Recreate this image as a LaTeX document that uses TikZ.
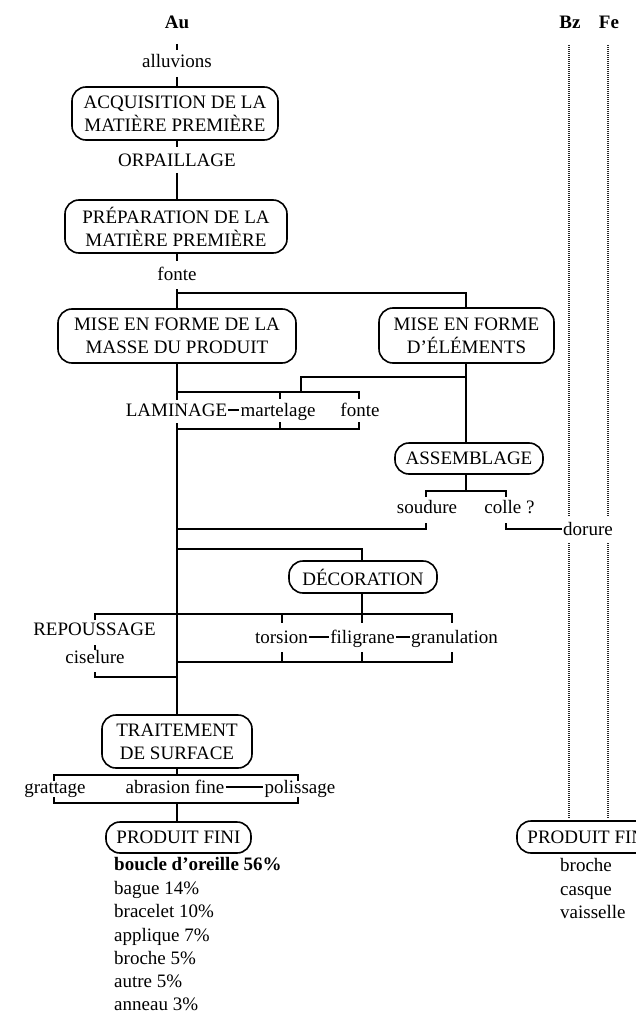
\documentclass[tikz,border=0pt]{standalone}
\usepackage{fontspec}
\setmainfont{Liberation Serif}
\begin{document}
\begin{tikzpicture}[x=1pt,y=-1pt,
  every node/.style={font=\fontsize{19}{23}\selectfont, inner sep=1pt},
  lbl/.style={text height=13pt, text depth=0pt, inner ysep=0pt},
  box/.style={draw, line width=1.6pt, rounded corners=14pt, align=center, inner sep=0pt},
  ln/.style={line width=1.6pt},
  dotln/.style={line width=2pt, dash pattern=on 1pt off 1pt, black!85}]
\clip (0,0) rectangle (636,1016);
\fill[white] (0,0) rectangle (636,1016);

\coordinate (ax) at (177,0);
\coordinate (ex) at (466,0);

% headers
\node[lbl] (au) at (177,22) {\textbf{Au}};
\node[lbl] (bz) at (570,22) {\textbf{Bz}};
\node[lbl] (fe) at (609,22) {\textbf{Fe}};

% dotted lines Bz / Fe
\coordinate (bzTop) at (569,45);
\coordinate (feTop) at (608,45);
\coordinate (bzBot) at (569,819);
\coordinate (feBot) at (608,819);
\draw[dotln] (bzTop) -- (bzBot);
\draw[dotln] (feTop) -- (feBot);

% boxes
\node[box, minimum width=206pt, minimum height=53pt] (acq) at (175,113.5) {ACQUISITION DE LA\\MATIÈRE PREMIÈRE};
\node[box, minimum width=222pt, minimum height=53pt] (prep) at (176,226.5) {PRÉPARATION DE LA\\MATIÈRE PREMIÈRE};
\node[box, minimum width=238pt, minimum height=54pt] (masse) at (177,336) {MISE EN FORME DE LA\\MASSE DU PRODUIT};
\node[box, minimum width=175pt, minimum height=55pt] (elem) at (466.5,335.5) {MISE EN FORME\\D’ÉLÉMENTS};
\node[box, minimum width=148pt, minimum height=31pt] (assem) at (469,458.5) {ASSEMBLAGE};
\node[box, minimum width=148pt, minimum height=32pt] (deco) at (363,577) {DÉCORATION};
\node[box, minimum width=150pt, minimum height=53pt] (trait) at (177,741.5) {TRAITEMENT\\DE SURFACE};
\node[box, minimum width=145pt, minimum height=31pt] (pfin) at (178.5,837.5) {PRODUIT FINI};
\node[box, minimum width=145pt, minimum height=32pt] (pfin2) at (589.5,837) {PRODUIT FINI};

% labels
\node[lbl] (alluv) at (177,61) {alluvions};
\node[lbl] (orp) at (177,160) {ORPAILLAGE};
\node[lbl] (fonte1) at (177,274) {fonte};
\node[lbl] (lam) at (176.5,410) {LAMINAGE};
\node[lbl] (mart) at (278,410) {martelage};
\node[lbl] (fonte2) at (360,410) {fonte};
\node[lbl] (soud) at (427,507) {soudure};
\node[lbl] (colle) at (509.5,507) {colle ?};
\node[lbl, fill=white, inner ysep=6pt] (dor) at (588,529) {dorure};
\node[lbl] (rep) at (94.5,629) {REPOUSSAGE};
\node[lbl] (cis) at (95,657) {ciselure};
\node[lbl] (tors) at (281.5,637) {torsion};
\node[lbl] (fili) at (362.5,637) {filigrane};
\node[lbl] (gran) at (454.5,637) {granulation};
\node[lbl] (gratt) at (55,787) {grattage};
\node[lbl] (abra) at (175,787) {abrasion fine};
\node[lbl] (poli) at (300,787) {polissage};

% lists
\node[lbl, anchor=west] (l1) at (113,864) {\textbf{boucle d’oreille 56\%}};
\node[lbl, anchor=west] (l2) at (113,887.5) {bague 14\%};
\node[lbl, anchor=west] (l3) at (113,911) {bracelet 10\%};
\node[lbl, anchor=west] (l4) at (113,934.5) {applique 7\%};
\node[lbl, anchor=west] (l5) at (113,958) {broche 5\%};
\node[lbl, anchor=west] (l6) at (113,981) {autre 5\%};
\node[lbl, anchor=west] (l7) at (113,1004) {anneau 3\%};
\node[lbl, anchor=west] (r1) at (559,865) {broche};
\node[lbl, anchor=west] (r2) at (559,888.5) {casque};
\node[lbl, anchor=west] (r3) at (559,912) {vaisselle};

% main axis
\draw[ln] (177,44) -- (177,50);
\draw[ln] (177,77) -- (acq.north -| ax);
\draw[ln] (acq.south -| ax) -- (177,147);
\draw[ln] (177,173) -- (prep.north -| ax);
\draw[ln] (prep.south -| ax) -- (177,261);
\coordinate (jf) at (177,293);
\draw[ln] (177,289) -- (masse.north -| ax);
\draw[ln] (jf) -- (jf -| ex) -- (elem.north -| ex);

% laminage bracket
\coordinate (lt) at (177,392);
\coordinate (lb) at (177,429);
\draw[ln] (masse.south -| ax) -- (177,400);
\draw[ln] (lt) -- (359,392) -- (359,399);
\draw[ln] (280,392) -- (280,399);
\draw[ln] (177,423) -- (lb) -- (359,429) -- (359,422);
\draw[ln] (280,429) -- (280,422);
\draw[ln] (lam.east) -- (mart.west);

% elements -> assemblage
\draw[ln] (elem.south -| ex) -- (assem.north -| ex);
\draw[ln] (466,377) -- (301,377) -- (301,392);
\draw[ln] (assem.south -| ex) -- (466,491);
\draw[ln] (426,497) -- (426,491) -- (506,491) -- (506,497);
\draw[ln] (426,523) -- (426,529) -- (177,529);
\draw[ln] (506,523) -- (506,529) -- (dor.west);

% decoration
\draw[ln] (177,549) -- (362,549) -- (deco.north -| 362,0);
\draw[ln] (deco.south -| 362,0) -- (362,614);
\draw[ln] (95,620) -- (95,614) -- (452,614) -- (452,623);
\draw[ln] (282,614) -- (282,623);
\draw[ln] (362,614) -- (362,623);
\draw[ln] (95,645) -- (95,650);
\draw[ln] (95,672) -- (95,677) -- (177,677);
\draw[ln] (282,652) -- (282,662);
\draw[ln] (362,652) -- (362,662);
\draw[ln] (452,652) -- (452,662) -- (177,662);
\draw[ln] (tors.east) -- (fili.west);
\draw[ln] (fili.east) -- (gran.west);

% main line down to traitement
\draw[ln] (lb) -- (trait.north -| ax);

% surface treatment
\draw[ln] (trait.south -| ax) -- (177,775);
\draw[ln] (54,781) -- (54,775) -- (298,775) -- (298,781);
\draw[ln] (54,797) -- (54,803) -- (298,803) -- (298,797);
\draw[ln] (abra.east) -- (poli.west);
\draw[ln] (177,803) -- (pfin.north -| ax);
\end{tikzpicture}
\end{document}
